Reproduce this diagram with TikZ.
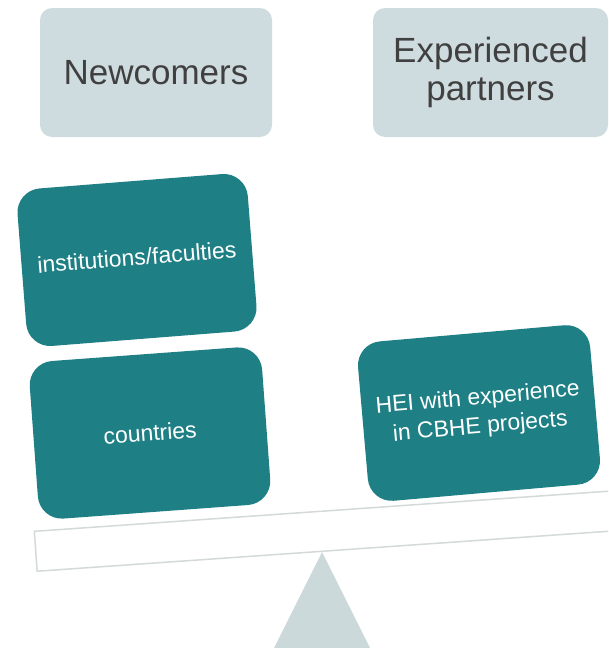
\documentclass[tikz,border=0pt]{standalone}
\usepackage{fontspec}
\setmainfont{Liberation Sans}
\definecolor{headgray}{RGB}{207,220,223}
\definecolor{headtext}{RGB}{64,64,64}
\definecolor{tealbox}{RGB}{30,128,133}
\definecolor{beamline}{RGB}{212,217,217}
\definecolor{pivotgray}{RGB}{204,217,219}
\tikzset{every picture/.style={line width=0.75pt}}
\tikzset{
  headbox/.style={fill=headgray, rounded corners=12pt, minimum width=232pt, minimum height=129pt,
    inner sep=0pt, align=center, text=headtext, font=\fontsize{35}{38}\selectfont},
  cardbox/.style={fill=tealbox, rounded corners=24pt, minimum width=231pt, minimum height=158pt,
    inner sep=0pt, align=center, text=white, font=\fontsize{23}{29}\selectfont},
  beambox/.style={draw=beamline, fill=white, line width=1.5pt, minimum width=610pt, minimum height=40pt, inner sep=0pt}
}
\begin{document}
\begin{tikzpicture}[x=1pt,y=-1pt]
\useasboundingbox (0,0) rectangle (608,648);
\clip (0,0) rectangle (608,648);
%Heads
\node[headbox] (newcomers) at (156,72.5) {Newcomers};
\node[headbox, minimum width=235pt] (experienced) at (490.5,72.5) {Experienced\\partners};
%Beam and pivot
\node[beambox, rotate=4] (beam) at (340,530) {};
\fill[pivotgray] (322,552) -- (370,648) -- (274,648) -- cycle;
%Cards
\node[cardbox, rotate=4.5] (inst) at (137,260) {\raisebox{6pt}{institutions/faculties}};
\node[cardbox, rotate=4.2, minimum width=233pt] (countries) at (150,433) {countries};
\node[cardbox, rotate=5, minimum width=233pt, minimum height=160pt] (hei) at (479,413) {HEI with experience\\in CBHE projects};
\end{tikzpicture}
\end{document}
